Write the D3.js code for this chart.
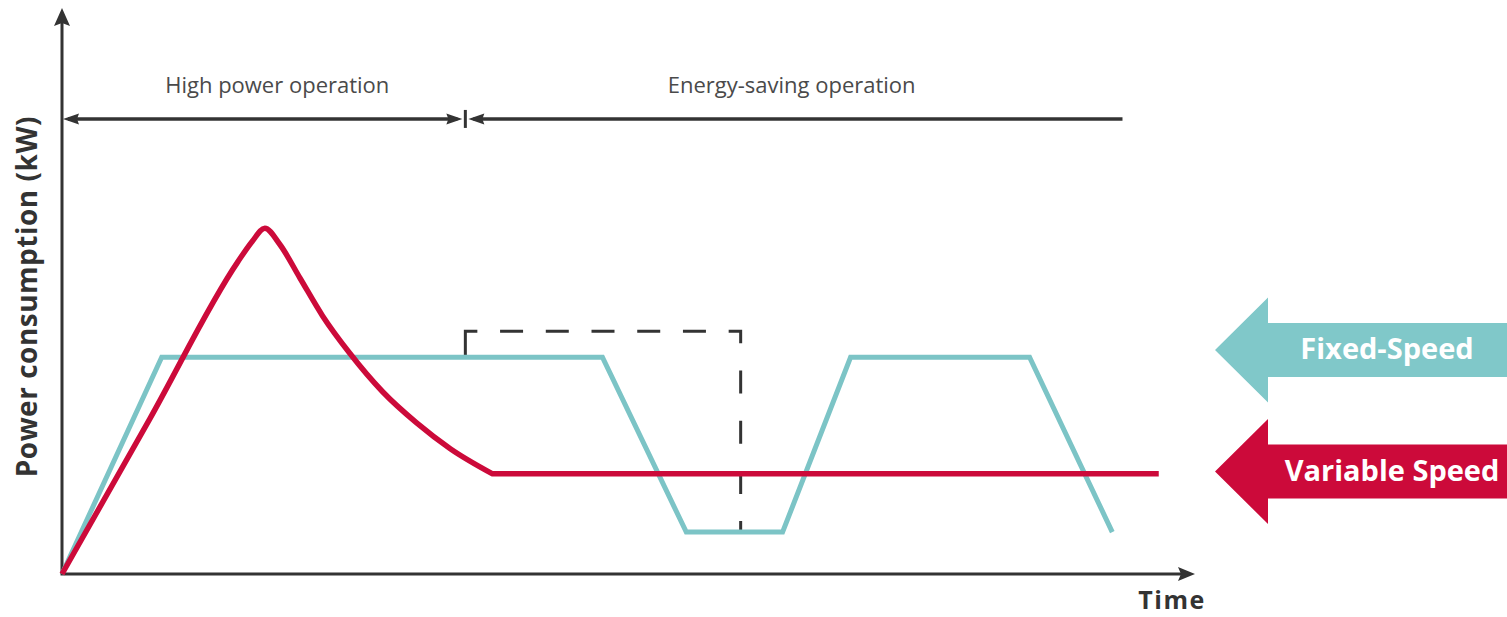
<!DOCTYPE html>
<html>
<head>
<meta charset="utf-8">
<script src="https://cdn.jsdelivr.net/npm/d3@7"></script>
<style>
  body { margin: 0; background: #fff; }
  svg { display: block; font-family: "Open Sans", "Noto Sans", sans-serif; }
</style>
</head>
<body>
<svg id="chart" width="1507" height="617"></svg>
<script>
// Fixed-speed compressor: full load, then on/off cycling
const fixedTime  = [0, 8.8, 47.7, 55.1, 63.6, 69.6, 85.4, 92.7];
const fixedPower = [0, 38.3, 38.3, 7.4, 7.4, 38.3, 38.3, 7.4];

// Variable-speed compressor: start-up peak, then steady low power
const variableTime  = [0, 7.8, 15.5, 16.8, 17.9, 19.2, 21.0, 23.0, 25.4, 28.3, 31.3, 34.3, 38.0, 96.8];
const variablePower = [0, 27.6, 55.1, 58.8, 61.1, 58.3, 52.3, 45.6, 39.0, 32.2, 26.7, 22.1, 17.7, 17.7];

// Dashed outline of the fixed-speed overshoot
const boxTime  = [35.6, 59.9];
const boxPower = [38.3, 42.9, 7.4];

// Operating phases along the top
const phaseBounds    = [0, 35.6, 93.6];
const phaseLabels    = ["High power operation", "Energy-saving operation"];
const phaseLabelTime = [19.0, 64.4];
const phaseLevel      = 80.4;
const phaseLabelLevel = 85.0;

const seriesNames  = ["Fixed-Speed", "Variable Speed"];
const axisTitles   = { x: "Time", y: "Power consumption (kW)" };

const colors = { fixed: "#7cc4c6", fixedTag: "#80c8c9", variable: "#cc0a3a", ink: "#333333", label: "#4a4a4a" };

const svg = d3.select("#chart");
const x = d3.scaleLinear().domain([0, 100]).range([62, 1195]);
const y = d3.scaleLinear().domain([0, 100]).range([574, 8]);

// arrowhead helper: tip point, direction angle (deg), length, half-width
function arrowHead(g, tx, ty, angle, len, hw, notch, fill) {
  const p = [[0, 0], [-len, -hw], [-len + notch, 0], [-len, hw]];
  g.append("path")
    .attr("d", "M" + p.map(d => d.join(",")).join("L") + "Z")
    .attr("transform", `translate(${tx},${ty}) rotate(${angle})`)
    .attr("fill", fill);
}

// axes
const axes = svg.append("g");
axes.append("line")
  .attr("x1", x(0)).attr("y1", y(0)).attr("x2", x(0)).attr("y2", y(100) + 10)
  .attr("stroke", colors.ink).attr("stroke-width", 3);
arrowHead(axes, x(0), y(100), -90, 18, 8, 3, colors.ink);
axes.append("line")
  .attr("x1", x(0) - 1.5).attr("y1", y(0)).attr("x2", x(100) - 10).attr("y2", y(0))
  .attr("stroke", colors.ink).attr("stroke-width", 3);
arrowHead(axes, x(100), y(0), 0, 17, 7, 3, colors.ink);

axes.append("text")
  .attr("transform", `translate(37,${y(49)}) rotate(-90)`)
  .attr("text-anchor", "middle")
  .attr("font-size", 28).attr("font-weight", 700)
  .attr("letter-spacing", 0.5)
  .attr("fill", colors.ink)
  .text(axisTitles.y);
axes.append("text")
  .attr("x", 1172).attr("y", 609)
  .attr("text-anchor", "middle")
  .attr("font-size", 25).attr("font-weight", 700)
  .attr("letter-spacing", 1.5)
  .attr("fill", colors.ink)
  .text(axisTitles.x);

// phase span arrows
const phases = svg.append("g");
const py = y(phaseLevel);
phases.append("line")
  .attr("x1", x(phaseBounds[0]) + 6).attr("x2", x(phaseBounds[1]) - 8)
  .attr("y1", py).attr("y2", py)
  .attr("stroke", colors.ink).attr("stroke-width", 3.5);
arrowHead(phases, x(phaseBounds[0]) + 1, py, 180, 16, 5.5, 2, colors.ink);
arrowHead(phases, x(phaseBounds[1]) - 3, py, 0, 16, 5.5, 2, colors.ink);
phases.append("line")
  .attr("x1", x(phaseBounds[1])).attr("x2", x(phaseBounds[1]))
  .attr("y1", py - 9).attr("y2", py + 9)
  .attr("stroke", colors.ink).attr("stroke-width", 3);
phases.append("line")
  .attr("x1", x(phaseBounds[1]) + 8).attr("x2", x(phaseBounds[2]))
  .attr("y1", py).attr("y2", py)
  .attr("stroke", colors.ink).attr("stroke-width", 3.5);
arrowHead(phases, x(phaseBounds[1]) + 3, py, 180, 16, 5.5, 2, colors.ink);

phases.selectAll("text.phase")
  .data(phaseLabels)
  .join("text")
  .attr("class", "phase")
  .attr("x", (d, i) => x(phaseLabelTime[i]))
  .attr("y", y(phaseLabelLevel))
  .attr("text-anchor", "middle")
  .attr("font-size", 22)
  .attr("fill", colors.label)
  .text(d => d);

// dashed overshoot outline, dashes aligned to the corners
const bx0 = x(boxTime[0]), bx1 = x(boxTime[1]);
const byStart = y(boxPower[0]), byTop = y(boxPower[1]), byBot = y(boxPower[2]);
const leftLen = byStart - byTop, topLen = bx1 - bx0, rightLen = byBot - byTop;
const dash = 23, half = 12;
const topGapCount = 6, rightGapCount = 4;
const topGap = (topLen - 2 * half - (topGapCount - 1) * dash) / topGapCount;
const rightEnd = 11;
const rightGap = (rightLen - half - rightEnd - (rightGapCount - 1) * dash) / rightGapCount;
const dashes = [leftLen + half];
for (let i = 0; i < topGapCount - 1; i++) dashes.push(topGap, dash);
dashes.push(topGap, 2 * half);
for (let i = 0; i < rightGapCount - 1; i++) dashes.push(rightGap, dash);
dashes.push(rightGap, rightEnd + 2);
svg.append("path")
  .attr("d", d3.line()([[bx0, byStart], [bx0, byTop], [bx1, byTop], [bx1, byBot]]))
  .attr("fill", "none")
  .attr("stroke", colors.ink)
  .attr("stroke-width", 3)
  .attr("stroke-dasharray", dashes.join(","));

// fixed-speed series
const fixedPts = fixedTime.map((t, i) => [x(t), y(fixedPower[i])]);
svg.append("path")
  .attr("d", d3.line()(fixedPts))
  .attr("fill", "none")
  .attr("stroke", colors.fixed)
  .attr("stroke-width", 5)
  .attr("stroke-linejoin", "miter");

// variable-speed series: smooth start-up hump, then a flat run
const varPts = variableTime.map((t, i) => [x(t), y(variablePower[i])]);
const kink = varPts.length - 2;
const humpPath = d3.line().curve(d3.curveMonotoneX)(varPts.slice(0, kink + 1));
svg.append("path")
  .attr("d", humpPath + "L" + varPts[kink + 1].join(","))
  .attr("fill", "none")
  .attr("stroke", colors.variable)
  .attr("stroke-width", 5.5)
  .attr("stroke-linejoin", "round");

// series tags as left-pointing arrows at the right edge
const tags = [
  { name: seriesNames[0], cy: 350, fill: colors.fixedTag, tx: 1387 },
  { name: seriesNames[1], cy: 471.5, fill: colors.variable, tx: 1392 }
];
const tagG = svg.append("g");
tags.forEach(tg => {
  const tipX = 1215, headX = 1268, headH = 52.5, shaftH = 27, right = 1507;
  const pts = [
    [tipX, tg.cy], [headX, tg.cy - headH], [headX, tg.cy - shaftH], [right, tg.cy - shaftH],
    [right, tg.cy + shaftH], [headX, tg.cy + shaftH], [headX, tg.cy + headH]
  ];
  tagG.append("path")
    .attr("d", "M" + pts.map(p => p.join(",")).join("L") + "Z")
    .attr("fill", tg.fill);
  tagG.append("text")
    .attr("x", tg.tx).attr("y", tg.cy + 9)
    .attr("text-anchor", "middle")
    .attr("font-size", 29).attr("font-weight", 700)
    .attr("fill", "#ffffff")
    .text(tg.name);
});
</script>
</body>
</html>
